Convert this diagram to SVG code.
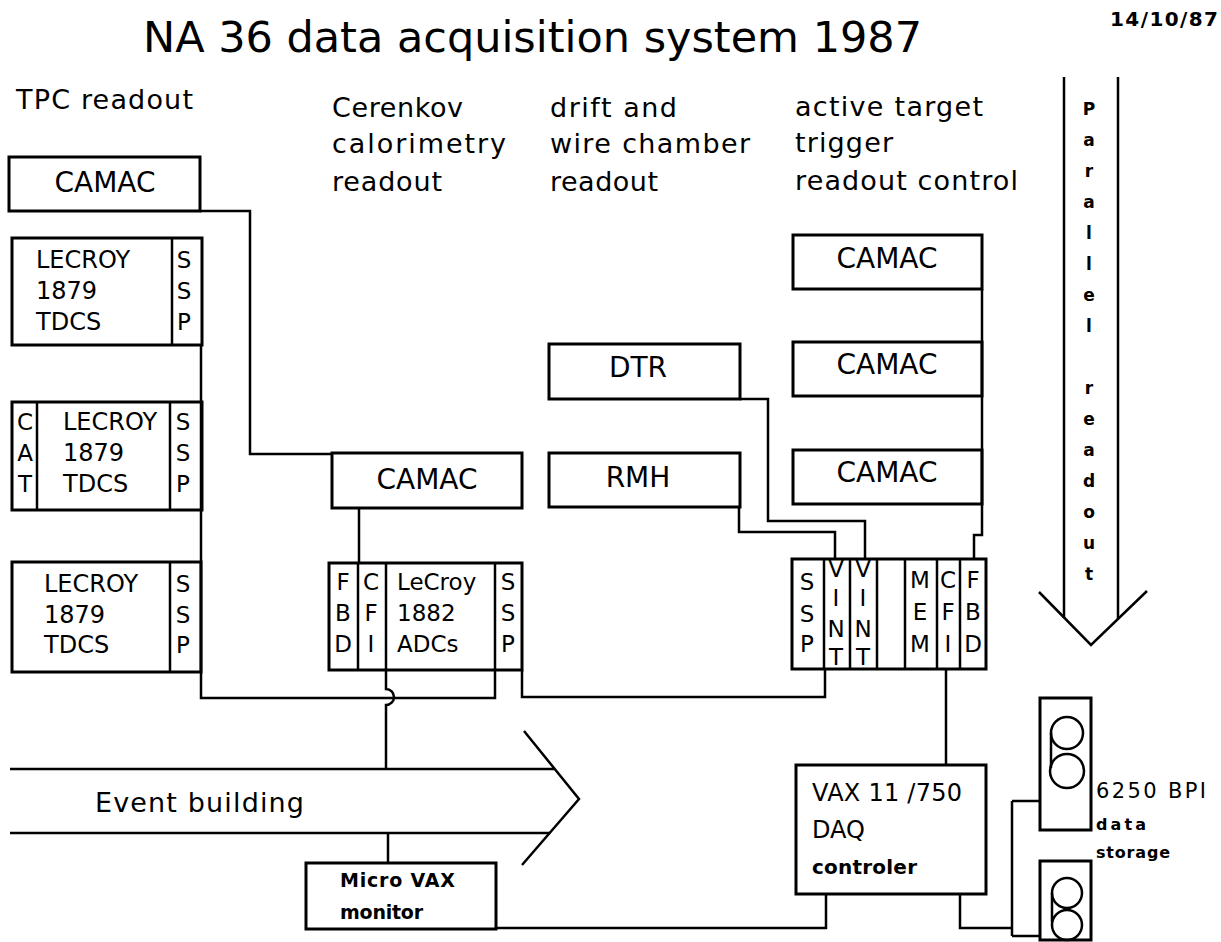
<svg xmlns="http://www.w3.org/2000/svg" width="1221" height="942" viewBox="0 0 1221 942">
<style>
.box{fill:none;stroke:#000;stroke-width:3}
.div{fill:none;stroke:#000;stroke-width:2.5}
.ln{fill:none;stroke:#000;stroke-width:2.5}
text{font-family:"DejaVu Sans","Liberation Sans",sans-serif;fill:#000}
.h{font-size:27px}
.lab{font-size:28px}
.m{font-size:24px}
.c{font-size:23px;text-anchor:middle}
.p{font-size:17px;font-weight:bold;text-anchor:middle}
</style>
<rect width="1221" height="942" fill="#fff"/>
<g id="title">
<text x="143" y="52" font-size="43" textLength="779">NA 36 data acquisition system 1987</text>
<text x="1110" y="26" font-size="20" font-weight="bold" textLength="108">14/10/87</text>
</g>
<g id="headings">
<text x="16" y="109" class="h" textLength="177">TPC readout</text>
<text x="332" y="117" class="h" textLength="131">Cerenkov</text>
<text x="332" y="153" class="h" textLength="174">calorimetry</text>
<text x="332" y="191" class="h" textLength="110">readout</text>
<text x="550" y="117" class="h" textLength="127">drift and</text>
<text x="550" y="153" class="h" textLength="200">wire chamber</text>
<text x="550" y="191" class="h" textLength="108">readout</text>
<text x="795" y="116" class="h" textLength="188">active target</text>
<text x="795" y="152" class="h" textLength="98">trigger</text>
<text x="795" y="190" class="h" textLength="223">readout control</text>
</g>
<g id="connectors">
<path class="ln" d="M200,211 H250 V454 H332"/>
<path class="ln" d="M201,345 V698 H495 V670"/>
<path class="ln" d="M359,508 V563"/>
<path class="ln" d="M386,670 V689 a8,8 0 0 1 0,16 V769"/>
<path class="ln" d="M522,670 V697 H825 V669"/>
<path class="ln" d="M740,399 H768 V521 H865 V559"/>
<path class="ln" d="M739,507 V532 H835 V559"/>
<path class="ln" d="M982,289 V535 H974 V559"/>
<path class="ln" d="M946,669 V765"/>
<path class="ln" d="M388,833 V863"/>
<path class="ln" d="M496,928 H826 V894"/>
<path class="ln" d="M960,894 V928 H1012 M1012,801 V936 M1012,801 H1040 M1012,936 H1040"/>
</g>
<g id="tpc-camac">
<rect class="box" x="9" y="157" width="191" height="54"/>
<text x="105" y="192" class="lab" text-anchor="middle">CAMAC</text>
</g>
<g id="lecroy1">
<rect class="box" x="12" y="238" width="190" height="107"/>
<line class="div" x1="172" y1="238" x2="172" y2="345"/>
<text x="36" y="268" class="m">LECROY</text>
<text x="36" y="299" class="m">1879</text>
<text x="36" y="330" class="m">TDCS</text>
<text x="184" y="268" class="c">S</text>
<text x="184" y="299" class="c">S</text>
<text x="184" y="330" class="c">P</text>
</g>
<g id="lecroy2">
<rect class="box" x="12" y="402" width="190" height="108"/>
<line class="div" x1="37" y1="402" x2="37" y2="510"/>
<line class="div" x1="170" y1="402" x2="170" y2="510"/>
<text x="25" y="430" class="c">C</text>
<text x="25" y="461" class="c">A</text>
<text x="25" y="492" class="c">T</text>
<text x="63" y="430" class="m">LECROY</text>
<text x="63" y="461" class="m">1879</text>
<text x="63" y="492" class="m">TDCS</text>
<text x="183" y="430" class="c">S</text>
<text x="183" y="461" class="c">S</text>
<text x="183" y="492" class="c">P</text>
</g>
<g id="lecroy3">
<rect class="box" x="12" y="562" width="189" height="110"/>
<line class="div" x1="170" y1="562" x2="170" y2="672"/>
<text x="44" y="592" class="m">LECROY</text>
<text x="44" y="623" class="m">1879</text>
<text x="44" y="653" class="m">TDCS</text>
<text x="183" y="592" class="c">S</text>
<text x="183" y="623" class="c">S</text>
<text x="183" y="653" class="c">P</text>
</g>
<g id="cer-camac">
<rect class="box" x="332" y="453" width="190" height="55"/>
<text x="427" y="489" class="lab" text-anchor="middle">CAMAC</text>
</g>
<g id="cer-crate">
<rect class="box" x="329" y="563" width="193" height="107"/>
<line class="div" x1="358" y1="563" x2="358" y2="670"/>
<line class="div" x1="386" y1="563" x2="386" y2="670"/>
<line class="div" x1="495" y1="563" x2="495" y2="670"/>
<text x="343" y="590" class="c">F</text>
<text x="343" y="621" class="c">B</text>
<text x="343" y="652" class="c">D</text>
<text x="371" y="590" class="c">C</text>
<text x="371" y="621" class="c">F</text>
<text x="371" y="652" class="c">I</text>
<text x="397" y="590" font-size="23">LeCroy</text>
<text x="397" y="621" font-size="23">1882</text>
<text x="397" y="652" font-size="23">ADCs</text>
<text x="508" y="590" class="c">S</text>
<text x="508" y="621" class="c">S</text>
<text x="508" y="652" class="c">P</text>
</g>
<g id="dtr">
<rect class="box" x="549" y="344" width="191" height="55"/>
<text x="638" y="377" class="lab" text-anchor="middle">DTR</text>
</g>
<g id="rmh">
<rect class="box" x="549" y="453" width="191" height="54"/>
<text x="638" y="487" class="lab" text-anchor="middle">RMH</text>
</g>
<g id="camac-r1">
<rect class="box" x="793" y="235" width="189" height="54"/>
<text x="887" y="268" class="lab" text-anchor="middle">CAMAC</text>
</g>
<g id="camac-r2">
<rect class="box" x="793" y="342" width="189" height="54"/>
<text x="887" y="374" class="lab" text-anchor="middle">CAMAC</text>
</g>
<g id="camac-r3">
<rect class="box" x="793" y="450" width="189" height="54"/>
<text x="887" y="482" class="lab" text-anchor="middle">CAMAC</text>
</g>
<g id="trig-crate">
<rect class="box" x="792" y="559" width="194" height="110"/>
<line class="div" x1="824" y1="559" x2="824" y2="669"/>
<line class="div" x1="850" y1="559" x2="850" y2="669"/>
<line class="div" x1="877" y1="559" x2="877" y2="669"/>
<line class="div" x1="905" y1="559" x2="905" y2="669"/>
<line class="div" x1="937" y1="559" x2="937" y2="669"/>
<line class="div" x1="960" y1="559" x2="960" y2="669"/>
<text x="807" y="590" class="c">S</text>
<text x="807" y="622" class="c">S</text>
<text x="807" y="652" class="c">P</text>
<text x="836" y="577" class="c">V</text>
<text x="836" y="606" class="c">I</text>
<text x="836" y="637" class="c">N</text>
<text x="836" y="665" class="c">T</text>
<text x="863" y="577" class="c">V</text>
<text x="863" y="606" class="c">I</text>
<text x="863" y="637" class="c">N</text>
<text x="863" y="665" class="c">T</text>
<text x="920" y="588" class="c">M</text>
<text x="920" y="620" class="c">E</text>
<text x="920" y="652" class="c">M</text>
<text x="948" y="588" class="c">C</text>
<text x="948" y="620" class="c">F</text>
<text x="948" y="652" class="c">I</text>
<text x="973" y="588" class="c">F</text>
<text x="973" y="620" class="c">B</text>
<text x="973" y="652" class="c">D</text>
</g>
<g id="parallel-readout">
<line class="ln" x1="1064" y1="77" x2="1064" y2="618"/>
<line class="ln" x1="1118" y1="77" x2="1118" y2="619"/>
<polyline class="ln" points="1039,592 1091,645 1147,591"/>
<text x="1089" y="115" class="p">P</text>
<text x="1089" y="146" class="p">a</text>
<text x="1089" y="177" class="p">r</text>
<text x="1089" y="208" class="p">a</text>
<text x="1089" y="239" class="p">l</text>
<text x="1089" y="270" class="p">l</text>
<text x="1089" y="301" class="p">e</text>
<text x="1089" y="332" class="p">l</text>
<text x="1089" y="394" class="p">r</text>
<text x="1089" y="425" class="p">e</text>
<text x="1089" y="456" class="p">a</text>
<text x="1089" y="487" class="p">d</text>
<text x="1089" y="518" class="p">o</text>
<text x="1089" y="549" class="p">u</text>
<text x="1089" y="580" class="p">t</text>
</g>
<g id="event-building">
<line class="ln" x1="10" y1="769" x2="555" y2="769"/>
<line class="ln" x1="10" y1="833" x2="550" y2="833"/>
<polyline class="ln" points="524,731 579,799 522,865"/>
<text x="95" y="812" class="h" textLength="209">Event building</text>
</g>
<g id="microvax">
<rect class="box" x="306" y="863" width="190" height="66"/>
<text x="340" y="887" font-size="19" font-weight="bold" textLength="115">Micro VAX</text>
<text x="340" y="919" font-size="19" font-weight="bold" textLength="83">monitor</text>
</g>
<g id="vax">
<rect class="box" x="796" y="765" width="190" height="129"/>
<text x="812" y="801" font-size="24" textLength="150">VAX 11 /750</text>
<text x="812" y="838" font-size="24">DAQ</text>
<text x="812" y="874" font-size="20" font-weight="bold" textLength="105">controler</text>
</g>
<g id="tape1">
<rect class="box" x="1040" y="698" width="51" height="132"/>
<circle class="ln" cx="1067" cy="733" r="16"/>
<circle class="ln" cx="1067" cy="771" r="17"/>
<line class="ln" x1="1051" y1="733" x2="1051" y2="768"/>
</g>
<g id="tape2">
<rect class="box" x="1040" y="861" width="51" height="79"/>
<circle class="ln" cx="1067" cy="893" r="15"/>
<circle class="ln" cx="1067" cy="925" r="15"/>
<line class="ln" x1="1052" y1="893" x2="1052" y2="922"/>
</g>
<g id="storage-label">
<text x="1096" y="798" font-size="21" textLength="110">6250 BPI</text>
<text x="1096" y="830" font-size="16" font-weight="bold" textLength="50">data</text>
<text x="1096" y="858" font-size="16" font-weight="bold" textLength="74">storage</text>
</g>
</svg>
